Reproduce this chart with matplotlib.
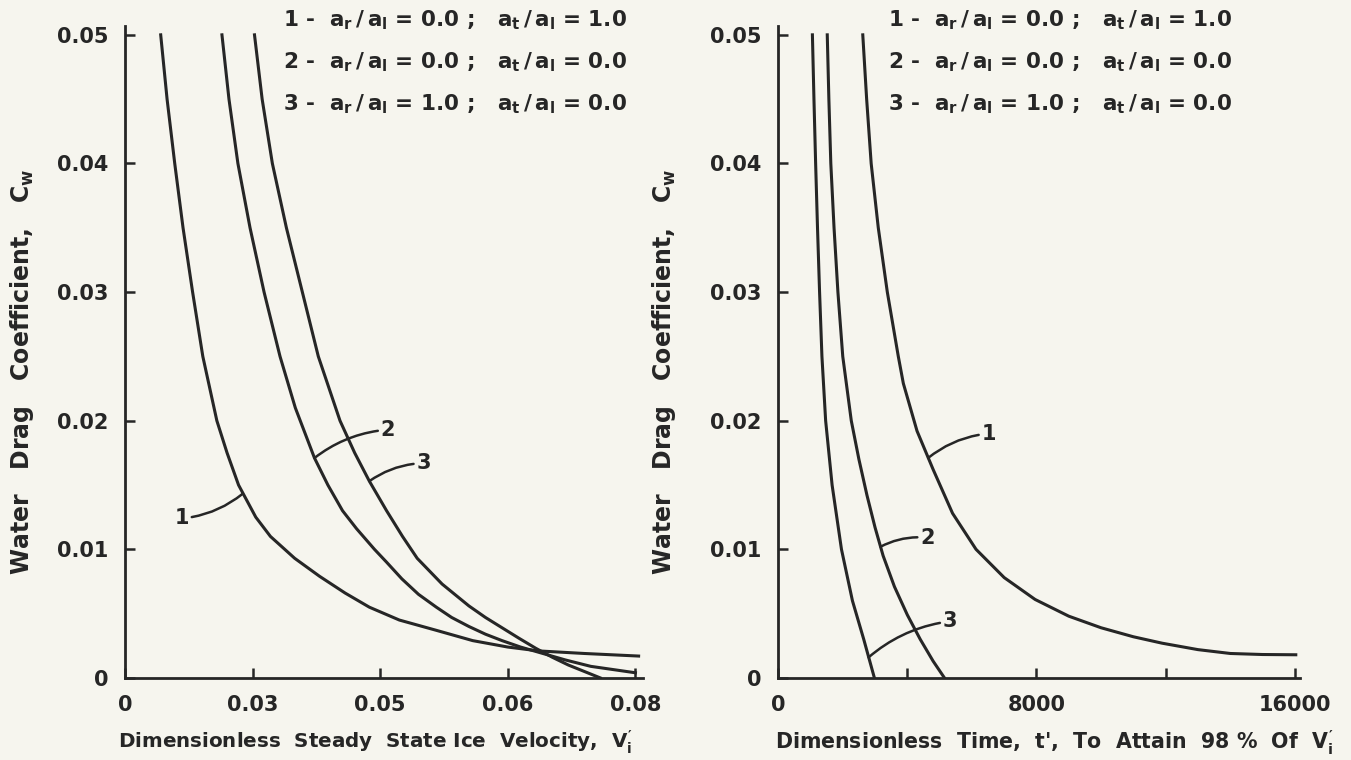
import numpy as np
import matplotlib
matplotlib.use("Agg")
from matplotlib import pyplot as plt

# ---- data ----
# left panel: Cw vs dimensionless steady state ice velocity
vel_c1 = [0.0056, 0.0066, 0.0078, 0.0091, 0.0106, 0.0122, 0.0144, 0.0160, 0.0178, 0.0205, 0.0228,
          0.0266, 0.0305, 0.0345, 0.0383, 0.0430, 0.0488, 0.0545, 0.0600, 0.0648, 0.0720, 0.0805]
cw_c1 = [0.050, 0.045, 0.040, 0.035, 0.030, 0.025, 0.020, 0.0175, 0.015, 0.0125, 0.0110,
         0.0093, 0.0079, 0.0066, 0.0055, 0.0045, 0.0037, 0.0029, 0.0024, 0.0021, 0.0019, 0.0017]
vel_c2 = [0.0152, 0.0163, 0.0177, 0.0196, 0.0218, 0.0243, 0.0267, 0.0297, 0.0318, 0.0341, 0.0363, 0.0391,
          0.0410, 0.0434, 0.0460, 0.0488, 0.0512, 0.0539, 0.0565, 0.0591, 0.0620, 0.0648, 0.0690, 0.0730, 0.0800]
cw_c2 = [0.050, 0.045, 0.040, 0.035, 0.030, 0.025, 0.0210, 0.0171, 0.0150, 0.0130, 0.0116, 0.0100,
         0.0090, 0.0077, 0.0065, 0.0055, 0.0047, 0.0040, 0.0034, 0.0029, 0.0024, 0.0020, 0.0014, 0.0009, 0.0004]
vel_c3 = [0.0203, 0.0215, 0.0231, 0.0253, 0.0278, 0.0303, 0.0337, 0.0360, 0.0383, 0.0410, 0.0435, 0.0458,
          0.0497, 0.0539, 0.0565, 0.0591, 0.0617, 0.0644, 0.0670, 0.0695, 0.0720, 0.0745]
cw_c3 = [0.050, 0.045, 0.040, 0.035, 0.030, 0.025, 0.020, 0.0175, 0.0153, 0.0130, 0.0110, 0.0093,
         0.0073, 0.0056, 0.0047, 0.0039, 0.0031, 0.0023, 0.0016, 0.0010, 0.0005, 0.0]

# right panel: Cw vs dimensionless time to attain 98% of V'i
t_c1 = [2620, 2740, 2880, 3100, 3380, 3720, 3876, 4300, 4800, 5400, 6127, 7000, 7957, 9000,
        10000, 11000, 11891, 13000, 14003, 15000, 16030]
tcw_c1 = [0.050, 0.045, 0.040, 0.035, 0.030, 0.025, 0.0229, 0.0192, 0.0162, 0.0128, 0.0100, 0.0078, 0.0061, 0.0048,
          0.0039, 0.0032, 0.0027, 0.0022, 0.0019, 0.00182, 0.0018]
t_c2 = [1520, 1570, 1630, 1730, 1850, 2000, 2264, 2500, 2750, 3000, 3250, 3600, 4000, 4400, 4800, 5150]
tcw_c2 = [0.050, 0.045, 0.040, 0.035, 0.030, 0.025, 0.020, 0.0170, 0.0142, 0.0117, 0.0095, 0.0071, 0.0049,
          0.0030, 0.0013, 0.0]
t_c3 = [1060, 1108, 1160, 1218, 1282, 1355, 1470, 1670, 1960, 2300, 2650, 2980]
tcw_c3 = [0.050, 0.045, 0.040, 0.035, 0.030, 0.025, 0.020, 0.015, 0.010, 0.006, 0.003, 0.0]

left_xticks = [0, 0.02, 0.04, 0.06, 0.08]
left_xlabels = ['0', '0.03', '0.05', '0.06', '0.08']
right_xticks = [0, 4000, 8000, 12000, 16000]
right_xlabels = ['0', '', '8000', '', '16000']
yticks = [0, 0.01, 0.02, 0.03, 0.04, 0.05]
ylabels = ['0', '0.01', '0.02', '0.03', '0.04', '0.05']

legend_rows = [
    r'1 -  $a_r\,/\,a_l$ = 0.0 ;   $a_t\,/\,a_l$ = 1.0',
    r'2 -  $a_r\,/\,a_l$ = 0.0 ;   $a_t\,/\,a_l$ = 0.0',
    r'3 -  $a_r\,/\,a_l$ = 1.0 ;   $a_t\,/\,a_l$ = 0.0',
]

ink = '#262626'
paper = '#f6f5ee'

plt.rcParams['font.family'] = ['DejaVu Sans']
plt.rcParams['font.weight'] = 'bold'
plt.rcParams['mathtext.fontset'] = 'custom'
plt.rcParams['mathtext.rm'] = 'DejaVu Sans:bold'
plt.rcParams['mathtext.it'] = 'DejaVu Sans:bold'
plt.rcParams['mathtext.bf'] = 'DejaVu Sans:bold'

fig = plt.figure(figsize=(13.51, 7.6), dpi=100, facecolor=paper)
ax1 = fig.add_axes([0.0925, 0.108, 0.3835, 0.858])
ax2 = fig.add_axes([0.576, 0.108, 0.386, 0.858])


def style_axis(ax, xticks, xlabels, xmax):
    ax.set_facecolor(paper)
    ax.set_xlim(0, xmax)
    ax.set_ylim(0, 0.0507)
    for s in ['top', 'right']:
        ax.spines[s].set_visible(False)
    for s in ['left', 'bottom']:
        ax.spines[s].set_linewidth(2.0)
        ax.spines[s].set_color(ink)
    ax.set_xticks(xticks)
    ax.set_xticklabels(xlabels)
    ax.set_yticks(yticks)
    ax.set_yticklabels(ylabels)
    ax.tick_params(direction='in', length=7, width=1.8, colors=ink,
                   labelsize=15, pad=12)


style_axis(ax1, left_xticks, left_xlabels, 0.0812)
style_axis(ax2, right_xticks, right_xlabels, 16150)

lw = 2.2
for xs, ys in [(vel_c1, cw_c1), (vel_c2, cw_c2), (vel_c3, cw_c3)]:
    ax1.plot(xs, ys, color=ink, lw=lw, solid_joinstyle='round')
for xs, ys in [(t_c1, tcw_c1), (t_c2, tcw_c2), (t_c3, tcw_c3)]:
    ax2.plot(xs, ys, color=ink, lw=lw, solid_joinstyle='round')

# curve labels with leader lines
leader = dict(arrowstyle='-', color=ink, lw=1.8, shrinkA=0, shrinkB=0,
              connectionstyle='arc3,rad=0.15')
ax1.annotate('1', xy=(0.0184, 0.0143), xytext=(0.0089, 0.0124), fontsize=15,
             color=ink, ha='center', va='center', arrowprops=leader)
ax1.annotate('2', xy=(0.0297, 0.0171), xytext=(0.0412, 0.0193), fontsize=15,
             color=ink, ha='center', va='center', arrowprops=leader)
ax1.annotate('3', xy=(0.0383, 0.0153), xytext=(0.0468, 0.0167), fontsize=15,
             color=ink, ha='center', va='center', arrowprops=leader)

ax2.annotate('1', xy=(4643, 0.0171), xytext=(6520, 0.0190), fontsize=15,
             color=ink, ha='center', va='center', arrowprops=leader)
ax2.annotate('2', xy=(3169, 0.0102), xytext=(4620, 0.0109), fontsize=15,
             color=ink, ha='center', va='center', arrowprops=leader)
ax2.annotate('3', xy=(2800, 0.0016), xytext=(5320, 0.0044), fontsize=15,
             color=ink, ha='center', va='center', arrowprops=leader)

# case legends at top right of each panel
for i, row in enumerate(legend_rows):
    fig.text(283 / 1351, 1 - (20 + 42 * i) / 760, row, fontsize=15.5,
             color=ink, va='center', ha='left')
    fig.text(888 / 1351, 1 - (20 + 42 * i) / 760, row, fontsize=15.5,
             color=ink, va='center', ha='left')

ylab = r'Water   Drag   Coefficient,   $C_w$'
fig.text(22 / 1351, 1 - 372 / 760, ylab, rotation=90, fontsize=17,
         color=ink, ha='center', va='center')
fig.text(664 / 1351, 1 - 372 / 760, ylab, rotation=90, fontsize=17,
         color=ink, ha='center', va='center')

fig.text(376 / 1351, 1 - 742 / 760,
         r"Dimensionless  Steady  State Ice  Velocity,  $V_i^{\prime}$",
         fontsize=14.3, color=ink, ha='center', va='center')
fig.text(1055 / 1351, 1 - 742 / 760,
         r"Dimensionless  Time,  t',  To  Attain  98 %  Of  $V_i^{\prime}$",
         fontsize=14.8, color=ink, ha='center', va='center')

fig.savefig('out.png', dpi=100, facecolor=paper)
